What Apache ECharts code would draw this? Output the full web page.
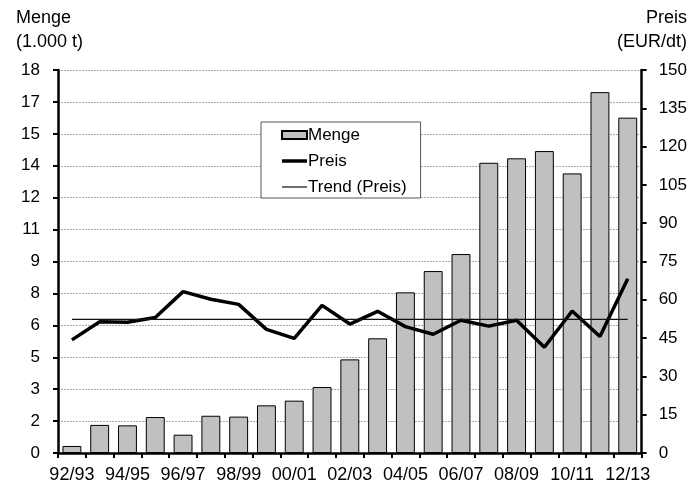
<!DOCTYPE html>
<html>
<head>
<meta charset="utf-8">
<script src="https://cdn.jsdelivr.net/npm/echarts@6/dist/echarts.min.js"></script>
<style>html,body{margin:0;padding:0;background:#fff}#c{width:690px;height:486px}</style>
</head>
<body>
<div id="c"></div>
<script>
const categories = ['92/93','93/94','94/95','95/96','96/97','97/98','98/99','99/00','00/01','01/02','02/03','03/04','04/05','05/06','06/07','07/08','08/09','09/10','10/11','11/12','12/13'];
const menge = [0.33,1.32,1.3,1.69,0.86,1.75,1.71,2.24,2.46,3.1,4.4,5.39,7.55,8.55,9.35,13.64,13.85,14.19,13.14,16.96,15.76];
const preis = [44.3,51.4,51.2,53.1,63.2,60.2,58.2,48.4,44.9,57.8,50.5,55.5,49.5,46.5,52.0,49.7,52.0,41.4,55.6,45.6,68.2];
const trend = [52.3,52.3,52.3,52.3,52.3,52.3,52.3,52.3,52.3,52.3,52.3,52.3,52.3,52.3,52.3,52.3,52.3,52.3,52.3,52.3,52.3];
const leftAxis = {min:0, max:18, step:1.5};
const rightAxis = {min:0, max:150, step:15};

const font = 'Liberation Sans, Arial, sans-serif';
const tstyle = {fontSize:18, fontWeight:'normal', color:'#000', fontFamily:font};
const chart = echarts.init(document.getElementById('c'));
chart.setOption({
  animation:false,
  textStyle:{fontFamily:font},
  title:[
    {text:'Menge', left:16, top:9, padding:0, textStyle:tstyle},
    {text:'(1.000 t)', left:16, top:33, padding:0, textStyle:tstyle},
    {text:'Preis', right:3, top:9, padding:0, textStyle:tstyle},
    {text:'(EUR/dt)', right:3, top:33, padding:0, textStyle:tstyle}
  ],
  legend:{
    orient:'vertical', left:261, top:122,
    backgroundColor:'#fff', borderColor:'#555', borderWidth:1,
    padding:[4,14,2,20], itemGap:8, itemWidth:25, itemHeight:8,
    textStyle:{fontSize:17, lineHeight:18, color:'#000', fontFamily:font, padding:[0,0,0,-4]},
    data:[
      {name:'Menge', icon:'rect'},
      {name:'Preis', icon:'path://M0,0H25V3.5H0Z'},
      {name:'Trend (Preis)', icon:'path://M0,0H25V1.2H0Z'}
    ]
  },
  grid:{left:58, right:48, top:70, bottom:33},
  xAxis:{
    type:'category', data:categories, boundaryGap:true,
    axisLine:{lineStyle:{color:'#000', width:2.5}},
    axisTick:{show:true, interval:0, length:5, lineStyle:{color:'#000', width:2}},
    axisLabel:{interval:1, color:'#000', fontSize:18, margin:13, fontFamily:font}
  },
  yAxis:[
    {type:'value', min:leftAxis.min, max:leftAxis.max, interval:leftAxis.step,
     axisLine:{show:true, lineStyle:{color:'#000', width:2.5}},
     axisTick:{show:true, length:5, lineStyle:{color:'#000', width:2}},
     axisLabel:{color:'#000', fontSize:17, margin:18, fontFamily:font, formatter:v=>String(Math.round(v))},
     splitLine:{show:true, lineStyle:{color:'#a8a8a8', width:1, type:[2,1]}}},
    {type:'value', min:rightAxis.min, max:rightAxis.max, interval:rightAxis.step, position:'right',
     axisLine:{show:true, lineStyle:{color:'#000', width:2.5}},
     axisTick:{show:true, length:5, lineStyle:{color:'#000', width:2}},
     axisLabel:{color:'#000', fontSize:17, margin:17, fontFamily:font},
     splitLine:{show:false}}
  ],
  series:[
    {name:'Menge', type:'bar', yAxisIndex:0, data:menge, barCategoryGap:'32%',
     itemStyle:{color:'#c0c0c0', borderColor:'#000', borderWidth:1}},
    {name:'Preis', type:'line', yAxisIndex:1, data:preis, symbol:'none', z:3,
     lineStyle:{color:'#000', width:3.5}, itemStyle:{color:'#000'}},
    {name:'Trend (Preis)', type:'line', yAxisIndex:1, data:trend, symbol:'none', z:4,
     lineStyle:{color:'#111', width:1.2}, itemStyle:{color:'#111'}}
  ]
});
</script>
</body>
</html>
